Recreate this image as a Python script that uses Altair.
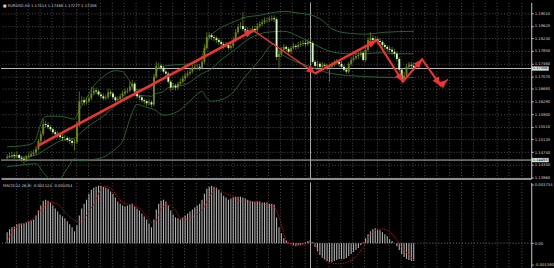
import math
import altair as alt
import pandas as pd

# ---------------- data ----------------
first_open = 1.1456
close = [
    1.1459, 1.1462, 1.1465, 1.1462, 1.1465, 1.1456, 1.1453, 1.1450, 1.1459, 1.1462,
    1.1468, 1.1472, 1.1484, 1.1508, 1.1529, 1.1560, 1.1557, 1.1551, 1.1544, 1.1535,
    1.1529, 1.1526, 1.1520, 1.1517, 1.1517, 1.1511, 1.1508, 1.1502, 1.1505, 1.1557,
    1.1630, 1.1633, 1.1627, 1.1630, 1.1639, 1.1654, 1.1663, 1.1660, 1.1651, 1.1645,
    1.1639, 1.1642, 1.1657, 1.1654, 1.1642, 1.1633, 1.1636, 1.1645, 1.1654, 1.1660,
    1.1663, 1.1675, 1.1684, 1.1660, 1.1645, 1.1642, 1.1633, 1.1630, 1.1624, 1.1627,
    1.1620, 1.1706, 1.1739, 1.1739, 1.1733, 1.1721, 1.1715, 1.1690, 1.1672, 1.1678,
    1.1672, 1.1684, 1.1690, 1.1700, 1.1709, 1.1715, 1.1721, 1.1733, 1.1736, 1.1736,
    1.1733, 1.1751, 1.1794, 1.1827, 1.1833, 1.1827, 1.1824, 1.1818, 1.1812, 1.1806,
    1.1800, 1.1803, 1.1794, 1.1800, 1.1818, 1.1842, 1.1858, 1.1861, 1.1852, 1.1848,
    1.1842, 1.1845, 1.1852, 1.1848, 1.1861, 1.1867, 1.1873, 1.1879, 1.1879, 1.1882,
    1.1885, 1.1882, 1.1766, 1.1776, 1.1788, 1.1797, 1.1791, 1.1782, 1.1794, 1.1800,
    1.1797, 1.1803, 1.1806, 1.1809, 1.1806, 1.1812, 1.1809, 1.1751, 1.1739, 1.1745,
    1.1736, 1.1742, 1.1739, 1.1733, 1.1736, 1.1742, 1.1748, 1.1751, 1.1745, 1.1736,
    1.1727, 1.1721, 1.1745, 1.1757, 1.1763, 1.1769, 1.1772, 1.1779, 1.1757, 1.1788,
    1.1818, 1.1824, 1.1818, 1.1821, 1.1815, 1.1812, 1.1803, 1.1797, 1.1791, 1.1788,
    1.1782, 1.1776, 1.1760, 1.1727, 1.1696, 1.1709, 1.1736, 1.1742, 1.1739, 1.1731,
]
high = [
    1.1468, 1.1472, 1.1475, 1.1472, 1.1475, 1.1468, 1.1462, 1.1459, 1.1465, 1.1472,
    1.1478, 1.1481, 1.1493, 1.1514, 1.1538, 1.1575, 1.1569, 1.1566, 1.1557, 1.1548,
    1.1541, 1.1538, 1.1532, 1.1529, 1.1526, 1.1523, 1.1520, 1.1517, 1.1514, 1.1569,
    1.1660, 1.1645, 1.1642, 1.1642, 1.1648, 1.1675, 1.1672, 1.1672, 1.1666, 1.1657,
    1.1654, 1.1651, 1.1669, 1.1666, 1.1660, 1.1648, 1.1645, 1.1654, 1.1663, 1.1669,
    1.1672, 1.1690, 1.1696, 1.1690, 1.1666, 1.1651, 1.1648, 1.1639, 1.1636, 1.1636,
    1.1633, 1.1715, 1.1751, 1.1748, 1.1745, 1.1739, 1.1727, 1.1721, 1.1696, 1.1687,
    1.1684, 1.1690, 1.1700, 1.1709, 1.1718, 1.1724, 1.1730, 1.1742, 1.1745, 1.1745,
    1.1745, 1.1760, 1.1806, 1.1842, 1.1842, 1.1839, 1.1833, 1.1830, 1.1824, 1.1818,
    1.1812, 1.1812, 1.1809, 1.1809, 1.1827, 1.1852, 1.1867, 1.1873, 1.1903, 1.1861,
    1.1858, 1.1855, 1.1861, 1.1861, 1.1870, 1.1876, 1.1882, 1.1888, 1.1888, 1.1891,
    1.1894, 1.1894, 1.1888, 1.1788, 1.1797, 1.1806, 1.1803, 1.1797, 1.1800, 1.1809,
    1.1806, 1.1812, 1.1815, 1.1818, 1.1818, 1.1821, 1.1821, 1.1815, 1.1757, 1.1754,
    1.1751, 1.1751, 1.1748, 1.1745, 1.1745, 1.1751, 1.1757, 1.1760, 1.1757, 1.1754,
    1.1742, 1.1733, 1.1751, 1.1766, 1.1772, 1.1779, 1.1782, 1.1788, 1.1785, 1.1797,
    1.1827, 1.1842, 1.1833, 1.1830, 1.1827, 1.1824, 1.1818, 1.1809, 1.1803, 1.1800,
    1.1797, 1.1791, 1.1782, 1.1766, 1.1733, 1.1721, 1.1745, 1.1751, 1.1751, 1.1748,
]
low = [
    1.1450, 1.1456, 1.1456, 1.1453, 1.1456, 1.1450, 1.1444, 1.1438, 1.1444, 1.1453,
    1.1459, 1.1462, 1.1465, 1.1478, 1.1502, 1.1523, 1.1548, 1.1544, 1.1538, 1.1529,
    1.1523, 1.1517, 1.1514, 1.1508, 1.1508, 1.1505, 1.1499, 1.1493, 1.1478, 1.1499,
    1.1551, 1.1620, 1.1617, 1.1620, 1.1624, 1.1633, 1.1648, 1.1651, 1.1645, 1.1639,
    1.1633, 1.1633, 1.1636, 1.1645, 1.1636, 1.1627, 1.1627, 1.1630, 1.1639, 1.1648,
    1.1654, 1.1657, 1.1666, 1.1654, 1.1639, 1.1633, 1.1627, 1.1620, 1.1614, 1.1617,
    1.1611, 1.1614, 1.1700, 1.1730, 1.1724, 1.1715, 1.1706, 1.1684, 1.1660, 1.1666,
    1.1663, 1.1666, 1.1678, 1.1684, 1.1693, 1.1703, 1.1709, 1.1715, 1.1727, 1.1727,
    1.1724, 1.1727, 1.1745, 1.1788, 1.1821, 1.1818, 1.1815, 1.1809, 1.1803, 1.1797,
    1.1791, 1.1794, 1.1788, 1.1788, 1.1794, 1.1812, 1.1836, 1.1852, 1.1845, 1.1839,
    1.1833, 1.1836, 1.1839, 1.1839, 1.1842, 1.1855, 1.1861, 1.1867, 1.1870, 1.1873,
    1.1876, 1.1873, 1.1757, 1.1727, 1.1766, 1.1782, 1.1782, 1.1772, 1.1776, 1.1788,
    1.1788, 1.1791, 1.1797, 1.1800, 1.1797, 1.1800, 1.1803, 1.1745, 1.1730, 1.1733,
    1.1727, 1.1730, 1.1730, 1.1724, 1.1690, 1.1730, 1.1736, 1.1742, 1.1736, 1.1730,
    1.1721, 1.1715, 1.1715, 1.1739, 1.1751, 1.1757, 1.1760, 1.1766, 1.1751, 1.1751,
    1.1782, 1.1812, 1.1809, 1.1812, 1.1806, 1.1803, 1.1794, 1.1788, 1.1782, 1.1779,
    1.1772, 1.1766, 1.1751, 1.1718, 1.1690, 1.1690, 1.1703, 1.1730, 1.1730, 1.1724,
]

# Bollinger bands, read at sample bars
bb_up_bar = [0, 6, 10, 12, 13, 14, 15, 17, 22, 28, 30, 33, 35, 40, 45, 48, 50, 52, 54, 57,
             60, 61, 62, 64, 70, 76, 80, 82, 84, 88, 94, 99, 105, 111, 115, 122, 128, 132, 135, 142,
             149, 157, 169]
bb_up = [1.1490, 1.1493, 1.1499, 1.1514, 1.1538, 1.1560, 1.1578, 1.1584, 1.1584, 1.1575,
         1.1605, 1.1639, 1.1666, 1.1706, 1.1724, 1.1721, 1.1703, 1.1678, 1.1666, 1.1669,
         1.1675, 1.1690, 1.1721, 1.1736, 1.1742, 1.1745, 1.1757, 1.1788, 1.1824, 1.1852,
         1.1873, 1.1888, 1.1894, 1.1903, 1.1906, 1.1900, 1.1891, 1.1873, 1.1852, 1.1839,
         1.1836, 1.1842, 1.1845]
bb_mid_bar = [0, 7, 12, 15, 17, 22, 28, 30, 35, 40, 45, 50, 55, 60, 61, 65, 67, 74, 81, 85,
              88, 94, 101, 108, 115, 121, 128, 135, 142, 149, 155, 162, 169]
bb_mid = [1.1459, 1.1459, 1.1465, 1.1478, 1.1487, 1.1508, 1.1517, 1.1529, 1.1560, 1.1584,
          1.1617, 1.1645, 1.1648, 1.1645, 1.1651, 1.1660, 1.1672, 1.1681, 1.1715, 1.1730,
          1.1751, 1.1785, 1.1824, 1.1842, 1.1845, 1.1830, 1.1803, 1.1782, 1.1776, 1.1776,
          1.1779, 1.1776, 1.1776]
bb_low_bar = [0, 7, 12, 15, 20, 25, 28, 30, 35, 41, 45, 48, 51, 54, 58, 61, 65, 71, 74, 78,
              81, 83, 85, 92, 99, 105, 111, 113, 116, 120, 124, 128, 135, 149, 160, 169]
bb_low = [1.1429, 1.1435, 1.1438, 1.1411, 1.1380, 1.1423, 1.1453, 1.1447, 1.1450, 1.1462,
          1.1484, 1.1508, 1.1575, 1.1620, 1.1611, 1.1605, 1.1587, 1.1599, 1.1617, 1.1645,
          1.1660, 1.1639, 1.1630, 1.1645, 1.1706, 1.1757, 1.1806, 1.1782, 1.1766, 1.1751,
          1.1742, 1.1730, 1.1715, 1.1706, 1.1703, 1.1703]

# MACD histogram (one value per bar) and signal line (sampled)
macd_hist = [
    0.00069, 0.00088, 0.00100, 0.00106, 0.00119, 0.00125, 0.00125, 0.00125, 0.00131, 0.00138,
    0.00144, 0.00150, 0.00175, 0.00207, 0.00238, 0.00269, 0.00275, 0.00269, 0.00257, 0.00238,
    0.00219, 0.00200, 0.00182, 0.00169, 0.00157, 0.00138, 0.00119, 0.00100, 0.00075, 0.00113,
    0.00175, 0.00219, 0.00250, 0.00275, 0.00313, 0.00338, 0.00351, 0.00357, 0.00363, 0.00363,
    0.00357, 0.00351, 0.00344, 0.00326, 0.00313, 0.00288, 0.00263, 0.00250, 0.00238, 0.00232,
    0.00238, 0.00244, 0.00250, 0.00232, 0.00219, 0.00207, 0.00188, 0.00169, 0.00150, 0.00125,
    0.00100, 0.00150, 0.00213, 0.00250, 0.00269, 0.00275, 0.00263, 0.00238, 0.00207, 0.00182,
    0.00163, 0.00157, 0.00150, 0.00163, 0.00175, 0.00188, 0.00200, 0.00213, 0.00225, 0.00238,
    0.00250, 0.00275, 0.00313, 0.00344, 0.00357, 0.00363, 0.00357, 0.00351, 0.00338, 0.00319,
    0.00300, 0.00288, 0.00275, 0.00282, 0.00288, 0.00294, 0.00294, 0.00294, 0.00288, 0.00282,
    0.00275, 0.00269, 0.00263, 0.00263, 0.00263, 0.00263, 0.00257, 0.00257, 0.00257, 0.00250,
    0.00250, 0.00244, 0.00163, 0.00100, 0.00063, 0.00031, 0.00019, 0.00006, -0.00006, -0.00013,
    -0.00019, -0.00013, -0.00013, -0.00006, 0.00006, 0.00013, 0.00019, 0.00006, -0.00025, -0.00050,
    -0.00075, -0.00094, -0.00106, -0.00113, -0.00119, -0.00119, -0.00113, -0.00106, -0.00100, -0.00100,
    -0.00100, -0.00094, -0.00081, -0.00069, -0.00056, -0.00044, -0.00031, -0.00013, 0.00006, 0.00031,
    0.00056, 0.00075, 0.00088, 0.00094, 0.00088, 0.00081, 0.00069, 0.00056, 0.00044, 0.00025,
    0.00013, 0.00000, -0.00019, -0.00044, -0.00069, -0.00088, -0.00100, -0.00106, -0.00113, -0.00113,
]
sig_bar = [0, 3, 6, 10, 14, 18, 21, 24, 28, 31, 33, 36, 39, 41, 44, 46, 48, 52, 56, 59,
           61, 63, 66, 69, 73, 77, 81, 84, 87, 90, 94, 96, 102, 107, 111, 113, 116, 119, 123, 127,
           129, 133, 138, 144, 148, 152, 156, 160, 164, 169]
sig = [0.00008, 0.00090, 0.00121, 0.00146, 0.00208, 0.00259, 0.00246, 0.00196, 0.00146, 0.00133,
       0.00177, 0.00246, 0.00340, 0.00359, 0.00334, 0.00290, 0.00259, 0.00240, 0.00208, 0.00146,
       0.00121, 0.00183, 0.00246, 0.00227, 0.00146, 0.00165, 0.00208, 0.00290, 0.00340, 0.00321,
       0.00290, 0.00271, 0.00259, 0.00246, 0.00227, 0.00165, 0.00021, -0.00011, -0.00011, 0.00008,
       -0.00036, -0.00117, -0.00130, -0.00098, -0.00023, 0.00071, 0.00090, 0.00058, -0.00023, -0.00105]

# drawn trend arrows (bar position, price) and their widths
arrow_bar = [13.75, 102.8, 128.6, 154.1, 165.0, 173.0, 180.7, 183.5]
arrow_price = [1.1495, 1.1848, 1.1716, 1.1817, 1.1690, 1.1759, 1.1678, 1.1696]
arrow_width = [2.6, 1.5, 2.4, 2.0, 2.0, 2.0, 1.6]

price_ticks = [1.19010, 1.18620, 1.18240, 1.17850, 1.17460, 1.17070, 1.16680,
               1.16290, 1.15900, 1.15510, 1.15130, 1.14740, 1.14350, 1.13960]
marked_prices = [1.17306, 1.14493]
marked_labels = ["1.17306", "1.14493"]
vline_bar = 126.6
macd_ticks = [0.003731, 0.0, -0.001380]
macd_tick_labels = ["0.003734", "0.00", "-0.001380"]
header = "\u25a0 EURUSD,H4  1.17414 1.17468 1.17277 1.17306"
macd_header = "MACD(12,26,9) -0.001124 -0.001054"

# ---------------- layout / style ----------------
W, H1, H2 = 536, 178, 88
X_DOM = [0, 216.3]
P_DOM = [1.13925, 1.19336]
M_DOM = [-0.001671, 0.003837]
FONT = "DejaVu Sans"
RED = "#f03434"
xgrid = [4.04 + 5 * k for k in range(43)]

grid = dict(grid=True, gridColor="#505050", gridDash=[1, 2], gridWidth=1)
ax_xp = alt.Axis(values=xgrid, labels=False, ticks=False, title=None, domain=True,
                 domainColor="#8c8c8c", domainWidth=2, **grid)
ax_xm = alt.Axis(values=xgrid, labels=False, ticks=False, title=None, domain=False, **grid)
ax_yp = alt.Axis(orient="right", values=price_ticks, format=".5f", title=None,
                 labelFontSize=3.8, labelColor="#d8d8d8", labelFont=FONT, labelPadding=1,
                 labelOverlap=False, tickSize=2, tickColor="#bdbdbd",
                 domainColor="#c8c8c8", domainWidth=1, **grid)
macd_expr = ("datum.value > 0.001 ? '%s' : (datum.value < -0.001 ? '%s' : '%s')"
             % (macd_tick_labels[0], macd_tick_labels[2], macd_tick_labels[1]))
ax_ym = alt.Axis(orient="right", values=macd_ticks, title=None, grid=False,
                 labelExpr=macd_expr,
                 labelFontSize=3.8, labelColor="#d8d8d8", labelFont=FONT, labelPadding=1,
                 labelOverlap=False, tickSize=2, tickColor="#bdbdbd",
                 domainColor="#c8c8c8", domainWidth=1)

xs = alt.Scale(domain=X_DOM, nice=False, zero=False)
ps = alt.Scale(domain=P_DOM, nice=False, zero=False)
ms = alt.Scale(domain=M_DOM, nice=False, zero=False)


def PX(f):
    return alt.X(f, type="quantitative", scale=xs, axis=ax_xp)


def PY(f):
    return alt.Y(f, type="quantitative", scale=ps, axis=ax_yp)


def MX(f):
    return alt.X(f, type="quantitative", scale=xs, axis=ax_xm)


def MY(f):
    return alt.Y(f, type="quantitative", scale=ms, axis=ax_ym)


# ---------------- tables ----------------
n = len(close)
opens = [first_open] + close[:-1]
candles = pd.DataFrame({
    "x": [i + 0.5 for i in range(n)],
    "open": opens, "close": close, "high": high, "low": low,
    "dir": ["up" if c >= o else "down" for o, c in zip(opens, close)],
})
up_df = pd.DataFrame({"x": [b + 0.5 for b in bb_up_bar], "p": bb_up})
mid_df = pd.DataFrame({"x": [b + 0.5 for b in bb_mid_bar], "p": bb_mid})
low_df = pd.DataFrame({"x": [b + 0.5 for b in bb_low_bar], "p": bb_low})

kx = W / (X_DOM[1] - X_DOM[0])
ky = H1 / (P_DOM[1] - P_DOM[0])
rows = []
for k in range(len(arrow_bar) - 1):
    x1, x2 = arrow_bar[k], arrow_bar[k + 1]
    p1, p2 = arrow_price[k], arrow_price[k + 1]
    dx = (x2 - x1) * kx
    dy = -(p2 - p1) * ky
    ang = math.degrees(math.atan2(dx, -dy)) % 360
    rows.append({"x": x1, "p": p1, "x2": x2, "p2": p2, "w": arrow_width[k], "ang": ang})
arrows = pd.DataFrame(rows)

marks_df = pd.DataFrame({"p": marked_prices, "label": marked_labels})
vline_df = pd.DataFrame({"x": [vline_bar]})
head_df = pd.DataFrame({"t": [header]})

macd_df = pd.DataFrame({"x": [i + 0.5 for i in range(n)], "h": macd_hist, "z": [0.0] * n})
sig_df = pd.DataFrame({"x": [b + 0.5 for b in sig_bar], "s": sig})
zero_df = pd.DataFrame({"v": [0.0]})
mhead_df = pd.DataFrame({"t": [macd_header]})

# ---------------- price panel ----------------
hlines = alt.Chart(marks_df).mark_rule(color="#bcbcbc", strokeWidth=1).encode(y=PY("p"))
vline_p = alt.Chart(vline_df).mark_rule(color="#a9a9a9", strokeWidth=1).encode(x=PX("x"))
band_style = dict(color="#2c6c3a", strokeWidth=0.9, clip=True, interpolate="monotone")
bb1 = alt.Chart(up_df).mark_line(**band_style).encode(x=PX("x"), y=PY("p"))
bb2 = alt.Chart(mid_df).mark_line(**band_style).encode(x=PX("x"), y=PY("p"))
bb3 = alt.Chart(low_df).mark_line(**band_style).encode(x=PX("x"), y=PY("p"))
wicks = alt.Chart(candles).mark_rule(color="#72962a", strokeWidth=0.7).encode(
    x=PX("x"), y=PY("low"), y2=alt.Y2("high"))
bodies = alt.Chart(candles).mark_bar(size=1.9).encode(
    x=PX("x"), y=PY("open"), y2=alt.Y2("close"),
    color=alt.Color("dir:N", scale=alt.Scale(domain=["up", "down"], range=["#6f8419", "#d2fbc0"]),
                    legend=None))
arrow_lines = alt.Chart(arrows).mark_rule(color=RED, strokeCap="round").encode(
    x=PX("x"), y=PY("p"), x2=alt.X2("x2"), y2=alt.Y2("p2"),
    strokeWidth=alt.StrokeWidth("w:Q", scale=None, legend=None))
arrow_heads = alt.Chart(arrows).mark_point(
    shape="M0,0L0.8,1.9L-0.8,1.9Z", filled=True, size=85, color=RED, opacity=1, strokeWidth=0
).encode(x=PX("x2"), y=PY("p2"), angle=alt.Angle("ang:Q", scale=None))
mark_box = alt.Chart(marks_df).mark_point(
    shape="M-1,-0.25L1,-0.25L1,0.25L-1,0.25Z", filled=True, size=300, color="#dcdcdc",
    opacity=1, strokeWidth=0).encode(x=alt.value(545), y=PY("p"))
mark_txt = alt.Chart(marks_df).mark_text(
    fontSize=3.6, font=FONT, color="#000000", align="center", baseline="middle").encode(
    x=alt.value(545), y=PY("p"), text="label:N")
head_txt = alt.Chart(head_df).mark_text(
    fontSize=3.8, font=FONT, color="#d4d4d4", align="left", baseline="middle").encode(
    x=alt.value(2), y=alt.value(3.5), text="t:N")

price = alt.layer(
    hlines, vline_p, bb1, bb2, bb3, wicks, bodies, arrow_lines, arrow_heads,
    mark_box, mark_txt, head_txt
).properties(width=W, height=H1)

# ---------------- MACD panel ----------------
zero_line = alt.Chart(zero_df).mark_rule(color="#6a7a8a", strokeDash=[1, 2], strokeWidth=1).encode(
    y=MY("v"))
vline_m = alt.Chart(vline_df).mark_rule(color="#a9a9a9", strokeWidth=1).encode(x=MX("x"))
hist = alt.Chart(macd_df).mark_bar(size=1.1, color="#b2b2b2").encode(
    x=MX("x"), y=MY("h"), y2=alt.Y2("z"))
sig_line = alt.Chart(sig_df).mark_line(
    color="#b80c0c", strokeDash=[1.5, 1], strokeWidth=1, interpolate="monotone").encode(
    x=MX("x"), y=MY("s"))
mhead_txt = alt.Chart(mhead_df).mark_text(
    fontSize=3.8, font=FONT, color="#d4d4d4", align="left", baseline="middle").encode(
    x=alt.value(2), y=alt.value(4), text="t:N")

macd = alt.layer(zero_line, vline_m, hist, sig_line, mhead_txt).properties(width=W, height=H2)

chart = alt.vconcat(price, macd, spacing=2, background="#000000", padding=0).configure_view(
    stroke=None)

chart.save("out.html", embed_options={"renderer": "svg", "actions": False})
